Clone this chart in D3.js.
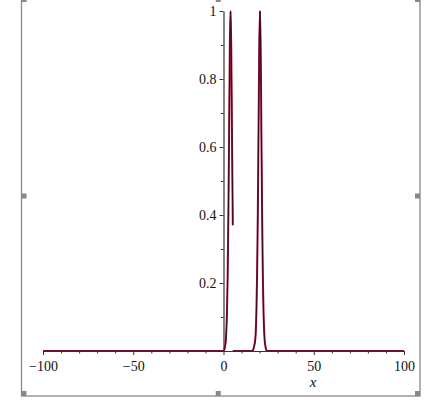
<!DOCTYPE html>
<html>
<head>
<meta charset="utf-8">
<script src="https://cdn.jsdelivr.net/npm/d3@7"></script>
<style>
  body { margin: 0; background: #fff; }
  text { font-family: "Liberation Serif", "DejaVu Serif", serif; }
</style>
</head>
<body>
<div id="plot"></div>
<script>
'use strict';

// first wave, plotted up to where it is cut off
var waveAx = [-100, 0, 0.9, 1.4, 1.9, 2.3, 2.7, 3.1, 3.5, 3.9, 4.3, 4.7, 5.15];
var waveAy = [0, 0, 0.015, 0.04, 0.11, 0.22, 0.40, 0.64, 0.89, 1.0, 0.89, 0.64, 0.37];

// second wave
var waveBx = [5.15, 16, 16.8, 17.7, 18.2, 18.6, 19.0, 19.4, 19.8, 20.2, 20.6, 21.0, 21.4, 21.8, 22.2, 22.7, 23.2, 24, 100];
var waveBy = [0, 0, 0.01, 0.04, 0.11, 0.22, 0.40, 0.64, 0.89, 1.0, 0.89, 0.64, 0.40, 0.22, 0.11, 0.04, 0.015, 0, 0];

var xMajor = [-100, -50, 0, 50, 100];
var xMinor = [-90, -80, -70, -60, -40, -30, -20, -10, 10, 20, 30, 40, 60, 70, 80, 90];
var yMajor = [0.2, 0.4, 0.6, 0.8, 1];
var yMinor = [0.1, 0.3, 0.5, 0.7, 0.9];

var myApp = {};

myApp.w = 437;
myApp.h = 408;
myApp.frame = {left: 21.5, right: 420, top: -3, bottom: 396};

myApp.svg = undefined;
myApp.x = undefined;
myApp.y = undefined;

myApp.appendSvg = function(div)
{
    var svg = d3.select(div).append('svg')
        .attr('width', myApp.w)
        .attr('height', myApp.h);

    myApp.svg = svg;
    return svg;
}

myApp.drawFrame = function(svg)
{
    var f = myApp.frame;
    svg.append('rect')
        .attr('x', f.left)
        .attr('y', f.top)
        .attr('width', f.right - f.left)
        .attr('height', f.bottom - f.top)
        .style('fill', 'none')
        .style('stroke', '#888')
        .style('stroke-width', 1.3);

    // little resize handles
    var s = 5;
    var midX = (f.left + f.right) / 2;
    var midY = 196;
    var handles = [
        [f.left, f.top], [midX - s, f.top], [f.right - s, f.top],
        [f.left, midY - s / 2], [f.right - s, midY - s / 2],
        [f.left, f.bottom - s], [midX - s, f.bottom - s], [f.right - s, f.bottom - s]
    ];
    svg.selectAll('rect.handle')
        .data(handles)
        .enter()
        .append('rect')
        .attr('class', 'handle')
        .attr('x', function(d){ return d[0]; })
        .attr('y', function(d){ return d[1]; })
        .attr('width', s)
        .attr('height', s)
        .style('fill', '#888');
}

myApp.drawAxes = function(svg)
{
    var x = myApp.x, y = myApp.y;

    var fmtX = function(d){ return d < 0 ? '\u2212' + Math.abs(d) : String(d); };

    svg.append('g')
        .attr('transform', 'translate(0,' + y(0) + ')')
        .call(d3.axisBottom(x).tickValues(xMajor).tickSize(4).tickSizeOuter(0)
            .tickPadding(6).tickFormat(fmtX));
    svg.append('g')
        .attr('transform', 'translate(0,' + y(0) + ')')
        .call(d3.axisBottom(x).tickValues(xMinor).tickSize(2.5).tickSizeOuter(0).tickFormat(''))
        .select('.domain').remove();

    svg.append('g')
        .attr('transform', 'translate(' + x(0) + ',0)')
        .call(d3.axisLeft(y).tickValues(yMajor).tickSize(4).tickSizeOuter(0)
            .tickPadding(3).tickFormat(function(d){ return d === 1 ? '1' : String(d); }));
    svg.append('g')
        .attr('transform', 'translate(' + x(0) + ',0)')
        .call(d3.axisLeft(y).tickValues(yMinor).tickSize(2.5).tickSizeOuter(0).tickFormat(''))
        .select('.domain').remove();

    svg.selectAll('.tick line').style('stroke', '#333');
    svg.selectAll('.domain').style('stroke', '#333').style('stroke-width', 1.2);
    svg.selectAll('.tick text')
        .style('font-family', '"Liberation Serif", serif')
        .style('font-size', '14px')
        .style('fill', '#111');

    svg.append('text')
        .attr('x', 313)
        .attr('y', 387)
        .attr('text-anchor', 'middle')
        .style('font-family', '"Liberation Serif", serif')
        .style('font-style', 'italic')
        .style('font-size', '15px')
        .style('fill', '#111')
        .text('x');
}

myApp.drawCurve = function(svg, xs, ys)
{
    var pts = xs.map(function(v, i){ return [v, ys[i]]; });
    var line = d3.line()
        .x(function(d){ return myApp.x(d[0]); })
        .y(function(d){ return myApp.y(d[1]); })
        .curve(d3.curveMonotoneX);

    svg.append('path')
        .datum(pts)
        .attr('d', line)
        .style('fill', 'none')
        .style('stroke', '#9a1a3c')
        .style('stroke-width', 2);
    svg.append('path')
        .datum(pts)
        .attr('d', line)
        .style('fill', 'none')
        .style('stroke', '#3d0818')
        .style('stroke-width', 1);
}

myApp.run = function()
{
    var svg = myApp.appendSvg('#plot');

    myApp.x = d3.scaleLinear().domain([-100, 100]).range([43, 404]);
    myApp.y = d3.scaleLinear().domain([0, 1]).range([351, 11]);

    myApp.drawFrame(svg);
    myApp.drawAxes(svg);
    myApp.drawCurve(svg, waveAx, waveAy);
    myApp.drawCurve(svg, waveBx, waveBy);
}

myApp.run();
</script>
</body>
</html>
